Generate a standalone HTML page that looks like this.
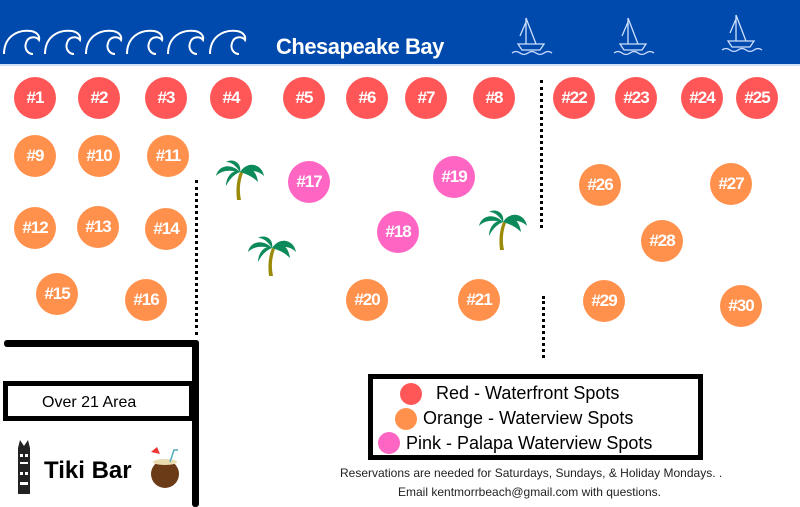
<!DOCTYPE html>
<html><head><meta charset="utf-8"><style>
body{margin:0;width:800px;height:507px;position:relative;background:#fff;overflow:hidden;font-family:"Liberation Sans","DejaVu Sans",sans-serif}
.c{position:absolute;width:42px;height:42px;margin:-21px 0 0 -21px;border-radius:50%;color:#fff;font-weight:bold;font-size:17px;letter-spacing:-1px;display:flex;align-items:center;justify-content:center}
.r{background:#ff5757}.o{background:#ff914d}.p{background:#ff66c4}
.d{position:absolute;border-left:3px dotted #000;width:0}
.b{position:absolute;background:#000}
.t{position:absolute;white-space:nowrap}
</style></head><body>
<div style="position:absolute;left:0;top:0;width:800px;height:64px;background:#004aad"></div>
<div style="position:absolute;left:0;top:64px;width:800px;height:2px;background:#cfe0f5"></div>
<svg style="position:absolute;left:0;top:0" width="800" height="66">
<defs><path id="wv" d="M0 54 C0 38 12 29 27 31 C33 32 36 36 35 40 C32 36 24 36 22 43 C20 49 24 54 29 54" fill="none" stroke="#fff" stroke-width="2"/></defs>
<use href="#wv" x="4"/><use href="#wv" x="45"/><use href="#wv" x="86"/><use href="#wv" x="127"/><use href="#wv" x="168"/><use href="#wv" x="210"/>
<g fill="none" stroke="#cfe0ff" stroke-width="1.3">
<g transform="translate(512,0)"><path d="M14 18 L14 44 M14 18 L24 44 M8 36 L14 22 M6 44 L32 44 L28 50 L10 50 Z M0 53 q4 -3 8 0 q4 3 8 0 q4 -3 8 0 q4 3 8 0 q4 -3 8 0"/></g>
<g transform="translate(614,0)"><path d="M14 18 L14 44 M14 18 L24 44 M8 36 L14 22 M6 44 L32 44 L28 50 L10 50 Z M0 53 q4 -3 8 0 q4 3 8 0 q4 -3 8 0 q4 3 8 0 q4 -3 8 0"/></g>
<g transform="translate(722,-3)"><path d="M14 18 L14 44 M14 18 L24 44 M8 36 L14 22 M6 44 L32 44 L28 50 L10 50 Z M0 53 q4 -3 8 0 q4 3 8 0 q4 -3 8 0 q4 3 8 0 q4 -3 8 0"/></g>
</g>
<text x="276" y="54" fill="#fff" font-family="Liberation Sans" font-weight="bold" font-size="22" letter-spacing="-0.5">Chesapeake Bay</text>
</svg>
<div class="c r" style="left:35px;top:98px">#1</div>
<div class="c r" style="left:99px;top:98px">#2</div>
<div class="c r" style="left:166px;top:98px">#3</div>
<div class="c r" style="left:231px;top:98px">#4</div>
<div class="c r" style="left:304px;top:98px">#5</div>
<div class="c r" style="left:367px;top:98px">#6</div>
<div class="c r" style="left:426px;top:98px">#7</div>
<div class="c r" style="left:494px;top:98px">#8</div>
<div class="c r" style="left:574px;top:98px">#22</div>
<div class="c r" style="left:636px;top:98px">#23</div>
<div class="c r" style="left:702px;top:98px">#24</div>
<div class="c r" style="left:757px;top:98px">#25</div>
<div class="c o" style="left:35px;top:156px">#9</div>
<div class="c o" style="left:99px;top:156px">#10</div>
<div class="c o" style="left:168px;top:156px">#11</div>
<div class="c o" style="left:35px;top:228px">#12</div>
<div class="c o" style="left:98px;top:227px">#13</div>
<div class="c o" style="left:166px;top:229px">#14</div>
<div class="c o" style="left:57px;top:294px">#15</div>
<div class="c o" style="left:146px;top:300px">#16</div>
<div class="c o" style="left:367px;top:300px">#20</div>
<div class="c o" style="left:479px;top:300px">#21</div>
<div class="c o" style="left:600px;top:185px">#26</div>
<div class="c o" style="left:731px;top:184px">#27</div>
<div class="c o" style="left:662px;top:241px">#28</div>
<div class="c o" style="left:604px;top:301px">#29</div>
<div class="c o" style="left:741px;top:306px">#30</div>
<div class="c p" style="left:309px;top:182px">#17</div>
<div class="c p" style="left:454px;top:177px">#19</div>
<div class="c p" style="left:398px;top:232px">#18</div>
<svg style="position:absolute;left:0;top:0" width="800" height="507">
<defs><g id="palm"><path d="M0 0 Q-5 12 -3 28 L1 28 Q-2 14 3 1 Z" fill="#9a8a0a"/>
<path d="M0 0 C-10 -10 -22 -6 -24 4 C-18 -2 -10 -2 0 0 Z M0 0 C8 -12 22 -8 24 4 C18 -2 10 -2 0 0 Z M0 0 C2 -10 -8 -14 -14 -10 C-8 -10 -4 -6 0 0 Z M0 0 C6 -8 16 -4 18 10 C12 4 6 2 0 0 Z M0 0 C-6 -4 -14 4 -14 14 C-10 6 -5 2 0 0 Z" fill="#0d8a5a"/></g></defs>
<use href="#palm" x="240" y="172"/>
<use href="#palm" x="272" y="248"/>
<use href="#palm" x="503" y="222"/>
</svg>
<div class="d" style="left:195px;top:180px;height:155px"></div>
<div class="d" style="left:540px;top:80px;height:148px"></div>
<div class="d" style="left:542px;top:296px;height:62px"></div>
<div class="b" style="left:4px;top:340px;width:195px;height:7px;border-radius:3px"></div>
<div class="b" style="left:192px;top:340px;width:7px;height:167px;border-radius:3px"></div>
<div style="position:absolute;left:3px;top:381px;width:181px;height:30px;border:5px solid #000;background:#fff"></div>
<div class="t" style="left:42px;top:394px;font-size:16px">Over 21 Area</div>
<div class="t" style="left:44px;top:457px;font-size:24px;font-weight:bold">Tiki Bar</div>
<svg style="position:absolute;left:14px;top:440px" width="20" height="55"><rect x="4" y="8" width="12" height="46" fill="#222"/><g fill="#fff"><rect x="6" y="14" width="3" height="3"/><rect x="11" y="14" width="3" height="3"/><rect x="6" y="22" width="8" height="2"/><rect x="6" y="32" width="3" height="3"/><rect x="11" y="32" width="3" height="3"/><rect x="6" y="42" width="8" height="3"/></g><path d="M4 8 L6 0 L10 6 L14 0 L16 8Z" fill="#222"/></svg>
<svg style="position:absolute;left:148px;top:446px" width="36" height="44"><ellipse cx="17" cy="28" rx="14" ry="14" fill="#6b3a17"/><ellipse cx="17" cy="16" rx="12" ry="3" fill="#e9dcb0"/><path d="M3 6 L9 1 L12 8Z" fill="#e33"/><path d="M22 16 L26 4 L30 4" stroke="#5ab" fill="none" stroke-width="1.5"/></svg>
<div style="position:absolute;left:368px;top:374px;width:325px;height:76px;border:5px solid #000"></div>
<div style="position:absolute;left:400px;top:383px;width:22px;height:22px;border-radius:50%;background:#ff5757"></div>
<div style="position:absolute;left:395px;top:408px;width:22px;height:22px;border-radius:50%;background:#ff914d"></div>
<div style="position:absolute;left:378px;top:432px;width:22px;height:22px;border-radius:50%;background:#ff66c4"></div>
<div class="t" style="left:436px;top:383px;font-size:18px">Red - Waterfront Spots</div>
<div class="t" style="left:423px;top:408px;font-size:18px">Orange - Waterview Spots</div>
<div class="t" style="left:406px;top:433px;font-size:18px">Pink - Palapa Waterview Spots</div>
<div class="t" style="left:340px;top:466px;font-size:12px;color:#222">Reservations are needed for Saturdays, Sundays, &amp; Holiday Mondays. .</div>
<div class="t" style="left:398px;top:485px;font-size:12px;color:#222">Email kentmorrbeach@gmail.com with questions.</div>
</body></html>
